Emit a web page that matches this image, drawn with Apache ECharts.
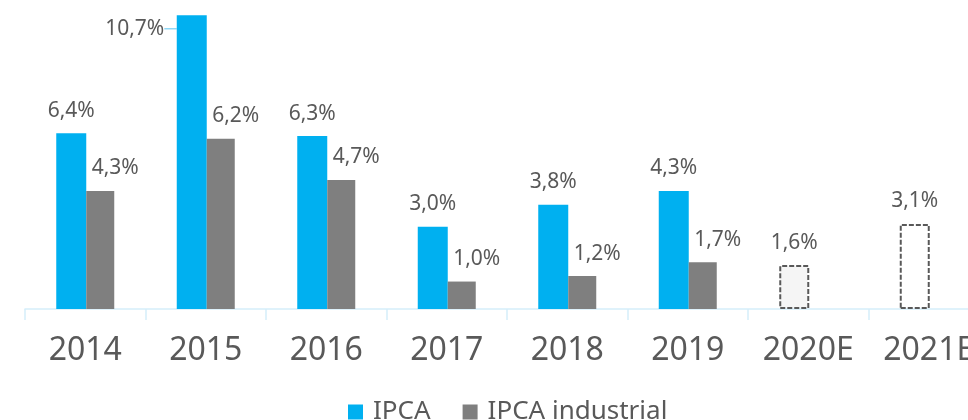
<!DOCTYPE html>
<html>
<head>
<meta charset="utf-8">
<script src="https://cdn.jsdelivr.net/npm/echarts@6/dist/echarts.min.js"></script>
<style>
  html, body { margin: 0; padding: 0; background: #fff; }
  #main { width: 968px; height: 420px; }
</style>
</head>
<body>
<div id="main"></div>
<script>
var anos = ['2014', '2015', '2016', '2017', '2018', '2019', '2020E', '2021E'];
var ipca = [6.4, 10.7, 6.3, 3.0, 3.8, 4.3, null, null];
var ipcaIndustrial = [4.3, 6.2, 4.7, 1.0, 1.2, 1.7, null, null];
var ipcaEstimado = [null, null, null, null, null, null, 1.6, 3.1];

var corTexto = '#595959';
var fmt = function (p) {
  return p.value == null ? '' : p.value.toFixed(1).replace('.', ',') + '%';
};
function rotulo(dx) {
  return {
    show: true,
    position: 'top',
    distance: 12,
    offset: [dx, 0],
    color: corTexto,
    fontFamily: 'Noto Sans',
    fontSize: 21,
    formatter: fmt
  };
}

var chart = echarts.init(document.getElementById('main'));
var option = {
  animation: false,
  grid: { left: 25, top: 7, bottom: 111, width: 964, outerBoundsMode: 'none' },
  legend: {
    data: ['IPCA', 'IPCA industrial'],
    left: 343,
    top: 394,
    itemWidth: 15,
    itemHeight: 15,
    itemGap: 32,
    icon: 'rect',
    textStyle: { color: corTexto, fontFamily: 'Noto Sans', fontSize: 26, padding: [0, 0, 0, 5] }
  },
  xAxis: {
    type: 'category',
    data: anos,
    axisLine: { lineStyle: { color: '#d5eefa', width: 1.5 } },
    axisTick: { show: true, length: 11, lineStyle: { color: '#d5eefa', width: 1.5 } },
    axisLabel: { interval: 0, color: corTexto, fontFamily: 'Noto Sans', fontSize: 32, margin: 26 }
  },
  yAxis: {
    type: 'value',
    min: 0,
    max: 11,
    show: false,
    splitLine: { show: false }
  },
  series: [
    {
      name: 'IPCA',
      type: 'bar',
      stack: 'ipca',
      data: ipca.map(function (v, i) {
        return { value: v, labelLine: { show: i === 1 } };
      }),
      barWidth: 30,
      barGap: 0,
      itemStyle: { color: '#00b0f0' },
      label: rotulo(0),
      labelLine: { show: false, lineStyle: { color: '#8fd8f7', width: 1.5 } },
      labelLayout: function (p) {
        if (p.dataIndex === 1) {
          return { dx: -57, dy: 36 };
        }
        return {};
      }
    },
    {
      name: 'IPCA industrial',
      type: 'bar',
      data: ipcaIndustrial,
      barWidth: 28,
      itemStyle: { color: '#7f7f7f' },
      label: rotulo(15)
    },
    {
      name: 'IPCA estimado',
      type: 'bar',
      stack: 'ipca',
      data: ipcaEstimado.map(function (v, i) {
        return {
          value: v,
          itemStyle: { color: i === 6 ? '#f5f5f5' : '#ffffff' }
        };
      }),
      itemStyle: {
        borderColor: corTexto,
        borderWidth: 2,
        borderType: [5, 2]
      },
      label: rotulo(0)
    }
  ]
};
chart.setOption(option);
</script>
</body>
</html>
